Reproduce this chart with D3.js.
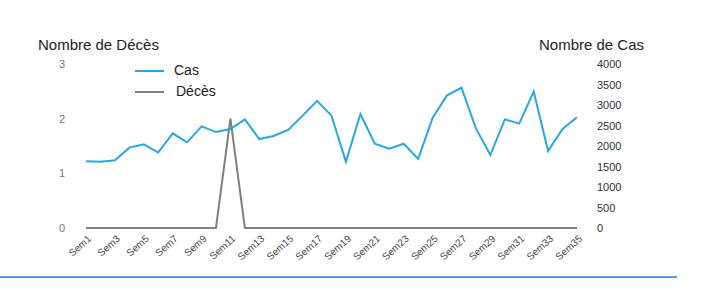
<!DOCTYPE html>
<html>
<head>
<meta charset="utf-8">
<script src="https://cdn.jsdelivr.net/npm/d3@7"></script>
<style>
    body { margin: 0; background: #fff; }
    svg { display: block; font-family: "Liberation Sans", Arial, sans-serif; }
    .axis .domain { display: none; }
    .axis line { display: none; }
</style>
</head>
<body>
<div id="chart"></div>
<script>
// weeks Sem1..Sem35
const weeks = ["Sem1","Sem2","Sem3","Sem4","Sem5","Sem6","Sem7","Sem8","Sem9","Sem10",
    "Sem11","Sem12","Sem13","Sem14","Sem15","Sem16","Sem17","Sem18","Sem19","Sem20",
    "Sem21","Sem22","Sem23","Sem24","Sem25","Sem26","Sem27","Sem28","Sem29","Sem30",
    "Sem31","Sem32","Sem33","Sem34","Sem35"];

const cas = [1630, 1615, 1650, 1960, 2040, 1840, 2310, 2090, 2480, 2340,
    2415, 2650, 2170, 2245, 2390, 2740, 3100, 2740, 1615, 2780,
    2055, 1935, 2055, 1685, 2685, 3235, 3420, 2430, 1780, 2650,
    2545, 3325, 1880, 2415, 2700];

const deces = [0, 0, 0, 0, 0, 0, 0, 0, 0, 0,
    2, 0, 0, 0, 0, 0, 0, 0, 0, 0,
    0, 0, 0, 0, 0, 0, 0, 0, 0, 0,
    0, 0, 0, 0, 0];

const leftTicks = [0, 1, 2, 3];
const rightTicks = [0, 500, 1000, 1500, 2000, 2500, 3000, 3500, 4000];

const width = 713, height = 300;

const svg = d3.select("#chart").append("svg")
    .attr("width", width)
    .attr("height", height);

const x = d3.scalePoint().domain(weeks).range([86, 577]);
const yLeft = d3.scaleLinear().domain([0, 3]).range([228, 64]);
const yRight = d3.scaleLinear().domain([0, 4000]).range([228, 64]);

// axis titles
svg.append("text")
    .attr("x", 38).attr("y", 50)
    .attr("font-size", 15).attr("fill", "#222")
    .text("Nombre de Décès");

svg.append("text")
    .attr("x", 539).attr("y", 50)
    .attr("font-size", 15).attr("fill", "#222")
    .text("Nombre de Cas");

// left axis
svg.append("g")
    .attr("class", "axis")
    .attr("transform", "translate(68,0)")
    .call(d3.axisLeft(yLeft).tickValues(leftTicks).tickFormat(d3.format("d")).tickSize(0).tickPadding(3))
    .selectAll("text")
    .attr("font-size", 11)
    .attr("fill", "#777");

// right axis
svg.append("g")
    .attr("class", "axis")
    .attr("transform", "translate(594,0)")
    .call(d3.axisRight(yRight).tickValues(rightTicks).tickFormat(d3.format("d")).tickSize(0).tickPadding(3))
    .selectAll("text")
    .attr("font-size", 11)
    .attr("fill", "#333");

// x axis labels, every other week
svg.append("g")
    .attr("class", "axis")
    .attr("transform", "translate(0,233)")
    .call(d3.axisBottom(x)
        .tickValues(weeks.filter((d, i) => i % 2 === 0))
        .tickSize(0).tickPadding(0))
    .selectAll("text")
    .attr("font-size", 10)
    .attr("fill", "#444")
    .attr("text-anchor", "end")
    .attr("dy", "0.35em")
    .attr("transform", "translate(3,4) rotate(-42)");

// lines
const lineCas = d3.line()
    .x((d, i) => x(weeks[i]))
    .y(d => yRight(d));

const lineDeces = d3.line()
    .x((d, i) => x(weeks[i]))
    .y(d => yLeft(d));

svg.append("path")
    .datum(deces)
    .attr("fill", "none")
    .attr("stroke", "#7f7f7f")
    .attr("stroke-width", 2)
    .attr("d", lineDeces);

svg.append("path")
    .datum(cas)
    .attr("fill", "none")
    .attr("stroke", "#2aa7e0")
    .attr("stroke-width", 2)
    .attr("d", lineCas);

// legend
const legend = [
    { name: "Cas", color: "#2aa7e0", y: 71, tx: 174 },
    { name: "Décès", color: "#7f7f7f", y: 92, tx: 176 }
];
legend.forEach(l => {
    svg.append("line")
        .attr("x1", 135).attr("x2", 164)
        .attr("y1", l.y).attr("y2", l.y)
        .attr("stroke", l.color).attr("stroke-width", 2);
    svg.append("text")
        .attr("x", l.tx).attr("y", l.y - 1)
        .attr("dy", "0.35em")
        .attr("font-size", 14).attr("fill", "#222")
        .text(l.name);
});

// bottom rule
svg.append("line")
    .attr("x1", 0).attr("x2", 677)
    .attr("y1", 277).attr("y2", 277)
    .attr("stroke", "#5b9bd5").attr("stroke-width", 2);
</script>
</body>
</html>
